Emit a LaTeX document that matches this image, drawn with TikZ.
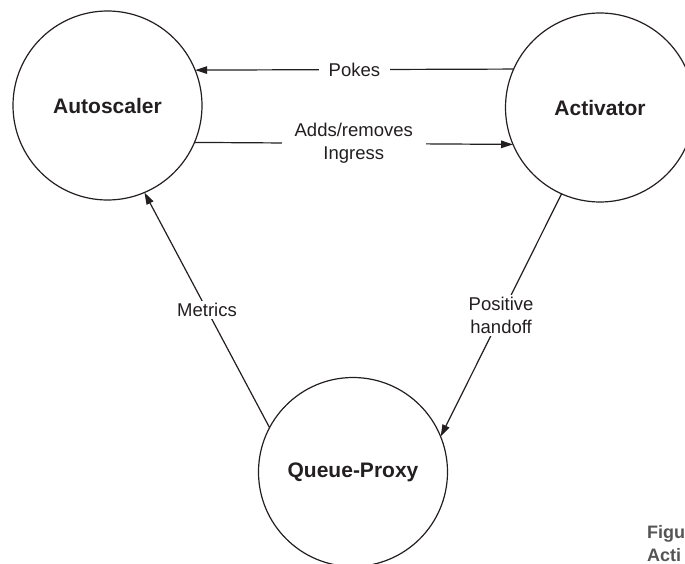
\documentclass[tikz,border=0pt]{standalone}
\usepackage{fontspec}
\setmainfont{Liberation Sans}
\usetikzlibrary{arrows.meta}
\definecolor{inkgray}{RGB}{35,31,32}
\definecolor{capgray}{RGB}{85,85,85}
\begin{document}
\begin{tikzpicture}[x=1pt,y=-1pt,
  comp/.style={circle,draw=inkgray,line width=1.2pt,minimum size=189pt,
    inner sep=0pt,outer sep=0pt,text=inkgray,
    font=\fontsize{21}{25}\selectfont\bfseries},
  link/.style={draw=inkgray,line width=1.2pt,-{Triangle[length=12pt,width=7.5pt]}},
  lbl/.style={fill=white,text=inkgray,align=center,inner xsep=10pt,inner ysep=2pt,
    font=\fontsize{18.5}{23}\selectfont},
  caption/.style={anchor=base west,text=capgray,inner sep=0pt,
    font=\fontsize{18}{22}\selectfont\bfseries}]
\useasboundingbox (0,0) rectangle (685,564);
\begin{scope}
\clip (0,0) rectangle (685,564);
% the three components
\node[comp] (auto) at (107.5,105.5) {Autoscaler};
\node[comp] (act) at (600,107.5) {Activator};
\node[comp] (qp) at (353,472) {Queue-Proxy};

% connectors with their labels
\draw[link] (act.156.6) -- node[lbl] {Pokes} (auto.22.1);
\draw[link] (auto.-23.4) -- node[lbl,inner xsep=13pt] {Adds/removes\\Ingress} (act.-157.9);
\draw[link] (qp.152.4) -- node[lbl,inner xsep=4pt] {Metrics} (auto.-67.4);
\draw[link] (act.246.5) -- node[lbl,inner xsep=4pt] {Positive\\handoff} (qp.22);

% caption fragment at the lower right
\node[caption] (cap1) at (647,538) {Figu};
\node[caption] (cap2) at (647,561) {Acti};
\end{scope}
\end{tikzpicture}
\end{document}
